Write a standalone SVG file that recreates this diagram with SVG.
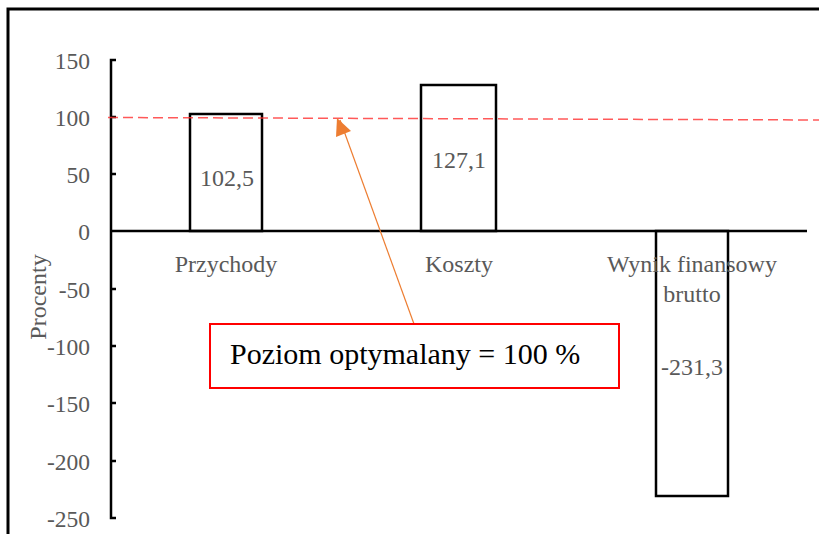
<svg xmlns="http://www.w3.org/2000/svg" width="819" height="534" viewBox="0 0 819 534">
<style>
.ax{stroke:#000;stroke-width:2.5;fill:none}
.bar{fill:#fff;stroke:#000;stroke-width:2.5}
.t{font-family:'Liberation Serif','Times New Roman',serif;font-size:24px;fill:#595959}
.yl{text-anchor:end;font-size:23.5px}
.c{text-anchor:middle}
.big{font-family:'Liberation Serif','Times New Roman',serif;font-size:30px;fill:#000}
</style>
<rect width="819" height="534" fill="#fff"/>
<path d="M8,534 V9 H819" stroke="#000" stroke-width="3" fill="none"/>
<g id="axis">
<path class="ax" d="M116,60 H111 V518 H116 M111,117 H116 M111,174 H116 M111,289 H116 M111,346 H116 M111,403 H116 M111,461 H116"/>
<text class="t yl" x="90" y="69">150</text>
<text class="t yl" x="90" y="126">100</text>
<text class="t yl" x="90" y="183">50</text>
<text class="t yl" x="90" y="240">0</text>
<text class="t yl" x="90" y="298">-50</text>
<text class="t yl" x="90" y="355">-100</text>
<text class="t yl" x="90" y="412">-150</text>
<text class="t yl" x="90" y="470">-200</text>
<text class="t yl" x="90" y="527">-250</text>
<text class="t c" transform="translate(46,297) rotate(-90)" font-size="25">Procenty</text>
</g>
<g id="bar-przychody">
<rect class="bar" x="190" y="114" width="72" height="117"/>
<text class="t c" x="227" y="186">102,5</text>
</g>
<g id="bar-koszty">
<rect class="bar" x="421" y="85" width="75" height="146"/>
<text class="t c" x="459" y="168">127,1</text>
</g>
<g id="bar-wynik">
<rect class="bar" x="656" y="231" width="72" height="265"/>
<text class="t c" x="692" y="375">-231,3</text>
</g>
<path class="ax" d="M111,231 H807"/>
<g id="labels">
<text class="t c" x="226" y="272">Przychody</text>
<text class="t c" x="459" y="272">Koszty</text>
<text class="t c" x="692" y="272">Wynik finansowy</text>
<text class="t c" x="692" y="302">brutto</text>
</g>
<g id="connectors">
<line x1="108" y1="117.5" x2="819" y2="120" stroke="#FF3030" stroke-opacity="0.8" stroke-width="1.5" stroke-dasharray="10,5"/>
<line x1="414" y1="324" x2="340" y2="120" stroke="#ED7D31" stroke-width="1.2"/>
<path d="M337,118 L336,137 L351,131 Z" fill="#ED7D31"/>
</g>
<g id="callout">
<rect x="210" y="324" width="409" height="64" fill="#fff" stroke="#FF0000" stroke-width="2"/>
<text class="big" x="230" y="364">Poziom optymalany = 100 %</text>
</g>
</svg>
